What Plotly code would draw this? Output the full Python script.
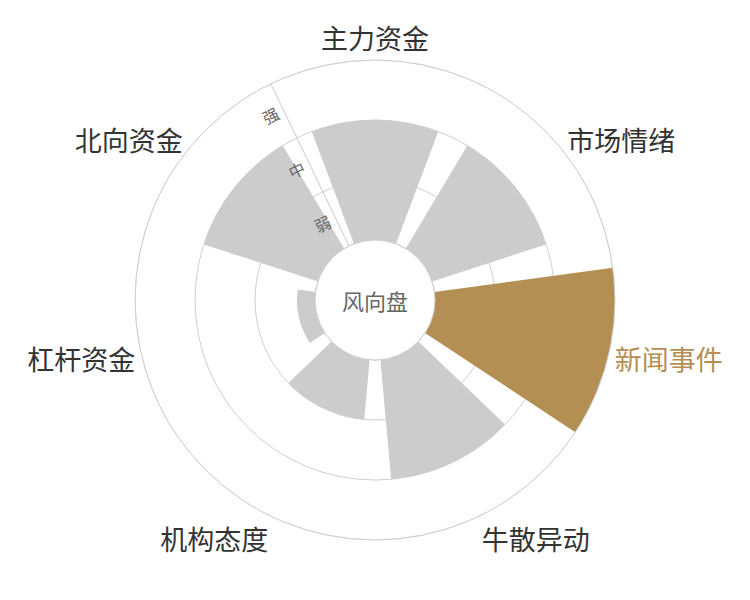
import plotly.graph_objects as go

categories = ["主力资金", "市场情绪", "新闻事件", "牛散异动", "机构态度", "杠杆资金", "北向资金"]
levels = [2, 2, 3, 2, 1, 0.3, 2]
level_names = ["弱", "中", "强"]
highlight = "新闻事件"
center_text = "风向盘"

grey = "#cccccc"
line_grey = "#cfcfcf"
gold = "#b48f53"
font = "Noto Sans CJK SC"

step = 360 / len(categories)
theta = [i * step for i in range(len(categories))]
seam = -step / 2  # radial axis sits between the last and first category

fig = go.Figure()

# grid rings as see-through bars so the real bars can cover them
for k in range(1, len(level_names) + 1):
    fig.add_trace(go.Barpolar(
        r=[k], theta=[seam + 180], width=[360],
        marker_color="rgba(0,0,0,0)",
        marker_line_color=line_grey, marker_line_width=1,
        hoverinfo="skip"))

colors = [gold if c == highlight else grey for c in categories]
fig.add_trace(go.Barpolar(
    r=levels, theta=theta, width=step * 0.8,
    marker_color=colors, marker_line_width=0,
    text=categories, hoverinfo="text"))

ticktext = []
for c in categories:
    if c == highlight:
        ticktext.append('<span style="color:%s">%s</span>' % (gold, c))
    else:
        ticktext.append(c)

# the page body has an 8px margin, so the margins are nudged to keep
# the dial centred where the original sits
fig.update_layout(
    width=750, height=600,
    margin=dict(l=127, r=143, t=52, b=68),
    paper_bgcolor="white",
    showlegend=False,
    font=dict(family=font),
    polar=dict(
        bgcolor="white",
        hole=0.25,
        barmode="overlay",
        radialaxis=dict(
            range=[0, 3],
            tickvals=[0.5, 1.5, 2.5],
            ticktext=level_names,
            angle=90 - seam,
            tickangle=90,
            side="counterclockwise",
            showgrid=False,
            showline=True, linecolor=line_grey, linewidth=1,
            ticks="",
            tickfont=dict(size=16, color="#666666", family=font),
        ),
        angularaxis=dict(
            tickmode="array",
            tickvals=theta,
            ticktext=ticktext,
            direction="clockwise",
            rotation=90,
            showgrid=False,
            showline=True, linecolor=line_grey, linewidth=1,
            ticks="",
            tickfont=dict(size=27, color="#333333", family=font),
        ),
    ),
    annotations=[dict(
        text=center_text, x=0.5, y=0.5, xref="paper", yref="paper",
        showarrow=False, font=dict(size=22, color="#666666", family=font))],
)

fig.write_html("out.html")
